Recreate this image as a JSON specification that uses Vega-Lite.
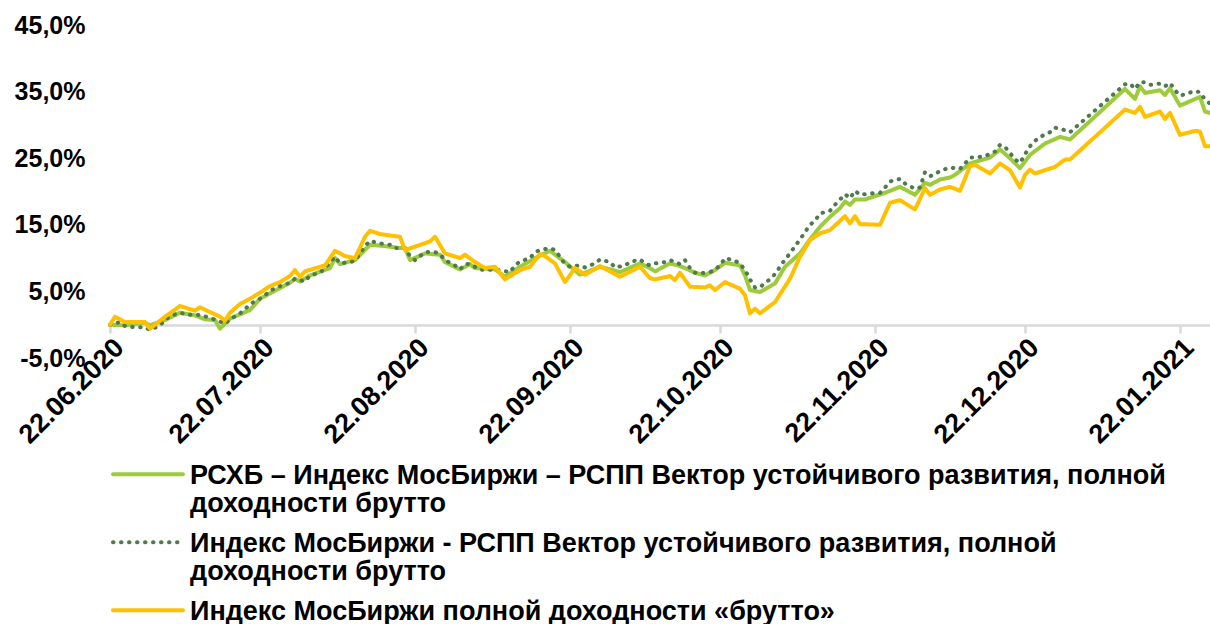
{
  "$schema": "https://vega.github.io/schema/vega-lite/v6.json",
  "width": 1100,
  "height": 333,
  "autosize": {"type": "none"},
  "padding": {"left": 110, "top": 25, "right": 0, "bottom": 266},
  "background": "white",
  "config": {
    "view": {"stroke": null},
    "font": "Liberation Sans"
  },
  "datasets": {
    "names": [
      {"s": "A", "name": "РСХБ – Индекс МосБиржи – РСПП Вектор устойчивого развития, полной доходности брутто"},
      {"s": "B", "name": "Индекс МосБиржи - РСПП Вектор устойчивого развития, полной доходности брутто"},
      {"s": "C", "name": "Индекс МосБиржи полной доходности «брутто»"}
    ],
    "pts": [
      {"date":"2020-06-22","s":"A","value":0.0},
      {"date":"2020-06-25","s":"A","value":-0.1},
      {"date":"2020-06-29","s":"A","value":0.3},
      {"date":"2020-06-30","s":"A","value":-0.1},
      {"date":"2020-07-03","s":"A","value":0.7},
      {"date":"2020-07-06","s":"A","value":1.8},
      {"date":"2020-07-09","s":"A","value":1.4},
      {"date":"2020-07-11","s":"A","value":0.8},
      {"date":"2020-07-13","s":"A","value":0.7},
      {"date":"2020-07-14","s":"A","value":-0.6},
      {"date":"2020-07-16","s":"A","value":0.9},
      {"date":"2020-07-20","s":"A","value":2.2},
      {"date":"2020-07-22","s":"A","value":3.9},
      {"date":"2020-07-24","s":"A","value":4.7},
      {"date":"2020-07-28","s":"A","value":6.3},
      {"date":"2020-07-29","s":"A","value":6.9},
      {"date":"2020-07-30","s":"A","value":6.5},
      {"date":"2020-08-01","s":"A","value":7.4},
      {"date":"2020-08-05","s":"A","value":8.5},
      {"date":"2020-08-06","s":"A","value":10.0},
      {"date":"2020-08-07","s":"A","value":9.1},
      {"date":"2020-08-10","s":"A","value":9.7},
      {"date":"2020-08-13","s":"A","value":12.0},
      {"date":"2020-08-16","s":"A","value":11.8},
      {"date":"2020-08-19","s":"A","value":11.5},
      {"date":"2020-08-20","s":"A","value":11.5},
      {"date":"2020-08-21","s":"A","value":9.7},
      {"date":"2020-08-24","s":"A","value":10.7},
      {"date":"2020-08-27","s":"A","value":10.5},
      {"date":"2020-08-28","s":"A","value":9.4},
      {"date":"2020-08-31","s":"A","value":8.3},
      {"date":"2020-09-02","s":"A","value":9.1},
      {"date":"2020-09-03","s":"A","value":8.5},
      {"date":"2020-09-07","s":"A","value":8.3},
      {"date":"2020-09-09","s":"A","value":7.2},
      {"date":"2020-09-12","s":"A","value":8.7},
      {"date":"2020-09-15","s":"A","value":10.0},
      {"date":"2020-09-18","s":"A","value":11.1},
      {"date":"2020-09-21","s":"A","value":9.4},
      {"date":"2020-09-24","s":"A","value":7.5},
      {"date":"2020-09-28","s":"A","value":8.7},
      {"date":"2020-10-02","s":"A","value":7.9},
      {"date":"2020-10-06","s":"A","value":9.2},
      {"date":"2020-10-08","s":"A","value":8.5},
      {"date":"2020-10-09","s":"A","value":8.0},
      {"date":"2020-10-12","s":"A","value":9.2},
      {"date":"2020-10-14","s":"A","value":8.8},
      {"date":"2020-10-15","s":"A","value":8.5},
      {"date":"2020-10-17","s":"A","value":7.8},
      {"date":"2020-10-19","s":"A","value":7.4},
      {"date":"2020-10-21","s":"A","value":8.2},
      {"date":"2020-10-23","s":"A","value":9.3},
      {"date":"2020-10-26","s":"A","value":8.9},
      {"date":"2020-10-27","s":"A","value":7.4},
      {"date":"2020-10-28","s":"A","value":5.2},
      {"date":"2020-10-30","s":"A","value":4.9},
      {"date":"2020-11-02","s":"A","value":6.2},
      {"date":"2020-11-04","s":"A","value":8.7},
      {"date":"2020-11-07","s":"A","value":10.7},
      {"date":"2020-11-09","s":"A","value":12.8},
      {"date":"2020-11-11","s":"A","value":14.7},
      {"date":"2020-11-13","s":"A","value":16.2},
      {"date":"2020-11-15","s":"A","value":17.5},
      {"date":"2020-11-16","s":"A","value":18.5},
      {"date":"2020-11-17","s":"A","value":18.0},
      {"date":"2020-11-18","s":"A","value":18.8},
      {"date":"2020-11-20","s":"A","value":18.8},
      {"date":"2020-11-24","s":"A","value":19.8},
      {"date":"2020-11-27","s":"A","value":20.7},
      {"date":"2020-11-30","s":"A","value":19.5},
      {"date":"2020-12-02","s":"A","value":21.3},
      {"date":"2020-12-03","s":"A","value":21.0},
      {"date":"2020-12-05","s":"A","value":21.8},
      {"date":"2020-12-07","s":"A","value":22.1},
      {"date":"2020-12-08","s":"A","value":22.5},
      {"date":"2020-12-11","s":"A","value":24.2},
      {"date":"2020-12-15","s":"A","value":25.1},
      {"date":"2020-12-17","s":"A","value":26.3},
      {"date":"2020-12-19","s":"A","value":25.0},
      {"date":"2020-12-21","s":"A","value":23.5},
      {"date":"2020-12-23","s":"A","value":25.5},
      {"date":"2020-12-26","s":"A","value":27.2},
      {"date":"2020-12-29","s":"A","value":28.2},
      {"date":"2020-12-31","s":"A","value":27.8},
      {"date":"2021-01-11","s":"A","value":35.4},
      {"date":"2021-01-13","s":"A","value":33.9},
      {"date":"2021-01-14","s":"A","value":35.8},
      {"date":"2021-01-15","s":"A","value":34.8},
      {"date":"2021-01-18","s":"A","value":35.2},
      {"date":"2021-01-19","s":"A","value":34.5},
      {"date":"2021-01-20","s":"A","value":35.5},
      {"date":"2021-01-22","s":"A","value":32.9},
      {"date":"2021-01-26","s":"A","value":34.2},
      {"date":"2021-01-27","s":"A","value":32.0},
      {"date":"2021-01-28","s":"A","value":31.8},

      {"date":"2020-06-22","s":"B","value":0.0},
      {"date":"2020-06-24","s":"B","value":0.4},
      {"date":"2020-06-25","s":"B","value":-0.2},
      {"date":"2020-06-27","s":"B","value":-0.4},
      {"date":"2020-06-29","s":"B","value":-0.4},
      {"date":"2020-06-30","s":"B","value":-0.8},
      {"date":"2020-07-02","s":"B","value":-0.1},
      {"date":"2020-07-03","s":"B","value":0.7},
      {"date":"2020-07-04","s":"B","value":1.3},
      {"date":"2020-07-06","s":"B","value":1.8},
      {"date":"2020-07-07","s":"B","value":1.6},
      {"date":"2020-07-09","s":"B","value":1.4},
      {"date":"2020-07-10","s":"B","value":1.5},
      {"date":"2020-07-12","s":"B","value":1.0},
      {"date":"2020-07-14","s":"B","value":0.5},
      {"date":"2020-07-15","s":"B","value":0.1},
      {"date":"2020-07-16","s":"B","value":0.8},
      {"date":"2020-07-18","s":"B","value":1.7},
      {"date":"2020-07-19","s":"B","value":2.3},
      {"date":"2020-07-20","s":"B","value":3.1},
      {"date":"2020-07-22","s":"B","value":3.9},
      {"date":"2020-07-23","s":"B","value":4.4},
      {"date":"2020-07-24","s":"B","value":5.1},
      {"date":"2020-07-26","s":"B","value":5.8},
      {"date":"2020-07-28","s":"B","value":6.3},
      {"date":"2020-07-29","s":"B","value":6.9},
      {"date":"2020-07-31","s":"B","value":6.5},
      {"date":"2020-08-01","s":"B","value":7.4},
      {"date":"2020-08-03","s":"B","value":7.8},
      {"date":"2020-08-04","s":"B","value":8.5},
      {"date":"2020-08-06","s":"B","value":10.2},
      {"date":"2020-08-07","s":"B","value":9.2},
      {"date":"2020-08-09","s":"B","value":9.4},
      {"date":"2020-08-10","s":"B","value":9.6},
      {"date":"2020-08-12","s":"B","value":11.8},
      {"date":"2020-08-13","s":"B","value":12.6},
      {"date":"2020-08-15","s":"B","value":12.2},
      {"date":"2020-08-17","s":"B","value":12.0},
      {"date":"2020-08-18","s":"B","value":11.5},
      {"date":"2020-08-20","s":"B","value":11.5},
      {"date":"2020-08-21","s":"B","value":10.3},
      {"date":"2020-08-22","s":"B","value":9.7},
      {"date":"2020-08-23","s":"B","value":10.3},
      {"date":"2020-08-24","s":"B","value":10.9},
      {"date":"2020-08-26","s":"B","value":10.9},
      {"date":"2020-08-27","s":"B","value":10.6},
      {"date":"2020-08-28","s":"B","value":9.7},
      {"date":"2020-08-30","s":"B","value":8.9},
      {"date":"2020-08-31","s":"B","value":8.3},
      {"date":"2020-09-01","s":"B","value":9.1},
      {"date":"2020-09-02","s":"B","value":9.1},
      {"date":"2020-09-04","s":"B","value":8.3},
      {"date":"2020-09-05","s":"B","value":8.2},
      {"date":"2020-09-07","s":"B","value":8.3},
      {"date":"2020-09-10","s":"B","value":7.9},
      {"date":"2020-09-11","s":"B","value":8.9},
      {"date":"2020-09-12","s":"B","value":9.5},
      {"date":"2020-09-14","s":"B","value":10.0},
      {"date":"2020-09-15","s":"B","value":10.9},
      {"date":"2020-09-16","s":"B","value":11.2},
      {"date":"2020-09-18","s":"B","value":11.5},
      {"date":"2020-09-19","s":"B","value":11.2},
      {"date":"2020-09-20","s":"B","value":10.2},
      {"date":"2020-09-21","s":"B","value":9.1},
      {"date":"2020-09-22","s":"B","value":8.7},
      {"date":"2020-09-24","s":"B","value":8.9},
      {"date":"2020-09-25","s":"B","value":8.6},
      {"date":"2020-09-27","s":"B","value":9.2},
      {"date":"2020-09-28","s":"B","value":9.8},
      {"date":"2020-09-30","s":"B","value":9.4},
      {"date":"2020-10-01","s":"B","value":8.6},
      {"date":"2020-10-03","s":"B","value":8.9},
      {"date":"2020-10-04","s":"B","value":9.4},
      {"date":"2020-10-06","s":"B","value":9.8},
      {"date":"2020-10-07","s":"B","value":9.2},
      {"date":"2020-10-08","s":"B","value":8.9},
      {"date":"2020-10-09","s":"B","value":9.2},
      {"date":"2020-10-11","s":"B","value":9.4},
      {"date":"2020-10-12","s":"B","value":9.7},
      {"date":"2020-10-14","s":"B","value":9.1},
      {"date":"2020-10-15","s":"B","value":9.7},
      {"date":"2020-10-16","s":"B","value":8.5},
      {"date":"2020-10-17","s":"B","value":7.8},
      {"date":"2020-10-18","s":"B","value":7.7},
      {"date":"2020-10-20","s":"B","value":7.9},
      {"date":"2020-10-21","s":"B","value":8.3},
      {"date":"2020-10-22","s":"B","value":8.9},
      {"date":"2020-10-23","s":"B","value":10.0},
      {"date":"2020-10-25","s":"B","value":9.6},
      {"date":"2020-10-26","s":"B","value":9.2},
      {"date":"2020-10-27","s":"B","value":8.2},
      {"date":"2020-10-28","s":"B","value":6.8},
      {"date":"2020-10-29","s":"B","value":5.6},
      {"date":"2020-10-30","s":"B","value":5.6},
      {"date":"2020-10-31","s":"B","value":6.3},
      {"date":"2020-11-01","s":"B","value":6.8},
      {"date":"2020-11-02","s":"B","value":7.6},
      {"date":"2020-11-03","s":"B","value":8.7},
      {"date":"2020-11-04","s":"B","value":9.8},
      {"date":"2020-11-05","s":"B","value":10.7},
      {"date":"2020-11-06","s":"B","value":11.8},
      {"date":"2020-11-07","s":"B","value":12.8},
      {"date":"2020-11-08","s":"B","value":13.9},
      {"date":"2020-11-09","s":"B","value":15.0},
      {"date":"2020-11-10","s":"B","value":15.6},
      {"date":"2020-11-11","s":"B","value":16.7},
      {"date":"2020-11-13","s":"B","value":17.1},
      {"date":"2020-11-14","s":"B","value":18.0},
      {"date":"2020-11-15","s":"B","value":18.8},
      {"date":"2020-11-16","s":"B","value":19.6},
      {"date":"2020-11-17","s":"B","value":19.0},
      {"date":"2020-11-18","s":"B","value":20.1},
      {"date":"2020-11-19","s":"B","value":19.5},
      {"date":"2020-11-21","s":"B","value":19.7},
      {"date":"2020-11-23","s":"B","value":19.8},
      {"date":"2020-11-24","s":"B","value":20.6},
      {"date":"2020-11-25","s":"B","value":21.5},
      {"date":"2020-11-27","s":"B","value":21.9},
      {"date":"2020-11-28","s":"B","value":21.2},
      {"date":"2020-11-30","s":"B","value":20.4},
      {"date":"2020-12-01","s":"B","value":20.6},
      {"date":"2020-12-02","s":"B","value":22.9},
      {"date":"2020-12-03","s":"B","value":22.3},
      {"date":"2020-12-04","s":"B","value":22.6},
      {"date":"2020-12-05","s":"B","value":23.1},
      {"date":"2020-12-07","s":"B","value":23.6},
      {"date":"2020-12-09","s":"B","value":23.4},
      {"date":"2020-12-10","s":"B","value":24.2},
      {"date":"2020-12-11","s":"B","value":25.1},
      {"date":"2020-12-12","s":"B","value":25.1},
      {"date":"2020-12-14","s":"B","value":25.3},
      {"date":"2020-12-16","s":"B","value":26.0},
      {"date":"2020-12-17","s":"B","value":27.0},
      {"date":"2020-12-18","s":"B","value":26.7},
      {"date":"2020-12-19","s":"B","value":25.8},
      {"date":"2020-12-20","s":"B","value":24.8},
      {"date":"2020-12-21","s":"B","value":24.3},
      {"date":"2020-12-22","s":"B","value":25.6},
      {"date":"2020-12-23","s":"B","value":26.8},
      {"date":"2020-12-24","s":"B","value":27.6},
      {"date":"2020-12-25","s":"B","value":28.2},
      {"date":"2020-12-27","s":"B","value":28.9},
      {"date":"2020-12-28","s":"B","value":29.6},
      {"date":"2020-12-30","s":"B","value":29.2},
      {"date":"2020-12-31","s":"B","value":28.9},
      {"date":"2021-01-11","s":"B","value":36.1},
      {"date":"2021-01-12","s":"B","value":36.2},
      {"date":"2021-01-13","s":"B","value":35.4},
      {"date":"2021-01-14","s":"B","value":36.4},
      {"date":"2021-01-15","s":"B","value":36.4},
      {"date":"2021-01-16","s":"B","value":36.0},
      {"date":"2021-01-18","s":"B","value":36.2},
      {"date":"2021-01-19","s":"B","value":35.8},
      {"date":"2021-01-20","s":"B","value":36.3},
      {"date":"2021-01-21","s":"B","value":35.2},
      {"date":"2021-01-22","s":"B","value":34.4},
      {"date":"2021-01-23","s":"B","value":34.6},
      {"date":"2021-01-25","s":"B","value":35.1},
      {"date":"2021-01-26","s":"B","value":34.9},
      {"date":"2021-01-27","s":"B","value":33.8},
      {"date":"2021-01-28","s":"B","value":33.2},

      {"date":"2020-06-22","s":"C","value":0.0},
      {"date":"2020-06-23","s":"C","value":1.2},
      {"date":"2020-06-25","s":"C","value":0.4},
      {"date":"2020-06-29","s":"C","value":0.4},
      {"date":"2020-06-30","s":"C","value":-0.6},
      {"date":"2020-07-03","s":"C","value":1.2},
      {"date":"2020-07-06","s":"C","value":2.8},
      {"date":"2020-07-09","s":"C","value":2.1},
      {"date":"2020-07-10","s":"C","value":2.6},
      {"date":"2020-07-14","s":"C","value":1.2},
      {"date":"2020-07-15","s":"C","value":0.6},
      {"date":"2020-07-16","s":"C","value":1.8},
      {"date":"2020-07-18","s":"C","value":3.1},
      {"date":"2020-07-20","s":"C","value":3.9},
      {"date":"2020-07-22","s":"C","value":4.8},
      {"date":"2020-07-24","s":"C","value":5.8},
      {"date":"2020-07-26","s":"C","value":6.4},
      {"date":"2020-07-28","s":"C","value":7.3},
      {"date":"2020-07-29","s":"C","value":8.2},
      {"date":"2020-07-30","s":"C","value":7.2},
      {"date":"2020-07-31","s":"C","value":8.0},
      {"date":"2020-08-04","s":"C","value":8.9},
      {"date":"2020-08-06","s":"C","value":11.1},
      {"date":"2020-08-08","s":"C","value":10.3},
      {"date":"2020-08-10","s":"C","value":10.0},
      {"date":"2020-08-12","s":"C","value":13.2},
      {"date":"2020-08-13","s":"C","value":14.1},
      {"date":"2020-08-15","s":"C","value":13.6},
      {"date":"2020-08-19","s":"C","value":13.2},
      {"date":"2020-08-20","s":"C","value":11.2},
      {"date":"2020-08-25","s":"C","value":12.5},
      {"date":"2020-08-26","s":"C","value":13.2},
      {"date":"2020-08-28","s":"C","value":10.7},
      {"date":"2020-08-31","s":"C","value":10.0},
      {"date":"2020-09-01","s":"C","value":10.5},
      {"date":"2020-09-03","s":"C","value":9.4},
      {"date":"2020-09-05","s":"C","value":8.5},
      {"date":"2020-09-07","s":"C","value":8.7},
      {"date":"2020-09-09","s":"C","value":6.8},
      {"date":"2020-09-12","s":"C","value":8.2},
      {"date":"2020-09-14","s":"C","value":8.7},
      {"date":"2020-09-16","s":"C","value":10.6},
      {"date":"2020-09-17","s":"C","value":10.3},
      {"date":"2020-09-19","s":"C","value":9.2},
      {"date":"2020-09-21","s":"C","value":6.4},
      {"date":"2020-09-23","s":"C","value":8.5},
      {"date":"2020-09-25","s":"C","value":7.5},
      {"date":"2020-09-28","s":"C","value":8.8},
      {"date":"2020-09-30","s":"C","value":8.0},
      {"date":"2020-10-02","s":"C","value":7.2},
      {"date":"2020-10-06","s":"C","value":8.7},
      {"date":"2020-10-08","s":"C","value":7.0},
      {"date":"2020-10-09","s":"C","value":6.8},
      {"date":"2020-10-12","s":"C","value":7.3},
      {"date":"2020-10-13","s":"C","value":6.7},
      {"date":"2020-10-14","s":"C","value":7.8},
      {"date":"2020-10-16","s":"C","value":5.7},
      {"date":"2020-10-19","s":"C","value":5.6},
      {"date":"2020-10-20","s":"C","value":5.9},
      {"date":"2020-10-21","s":"C","value":5.2},
      {"date":"2020-10-23","s":"C","value":6.4},
      {"date":"2020-10-26","s":"C","value":5.4},
      {"date":"2020-10-27","s":"C","value":4.4},
      {"date":"2020-10-28","s":"C","value":1.7},
      {"date":"2020-10-29","s":"C","value":2.4},
      {"date":"2020-10-30","s":"C","value":1.7},
      {"date":"2020-11-02","s":"C","value":3.4},
      {"date":"2020-11-05","s":"C","value":6.9},
      {"date":"2020-11-07","s":"C","value":10.2},
      {"date":"2020-11-09","s":"C","value":12.7},
      {"date":"2020-11-11","s":"C","value":13.7},
      {"date":"2020-11-13","s":"C","value":14.2},
      {"date":"2020-11-16","s":"C","value":16.3},
      {"date":"2020-11-17","s":"C","value":15.2},
      {"date":"2020-11-18","s":"C","value":16.3},
      {"date":"2020-11-19","s":"C","value":15.1},
      {"date":"2020-11-23","s":"C","value":15.0},
      {"date":"2020-11-25","s":"C","value":18.3},
      {"date":"2020-11-27","s":"C","value":18.7},
      {"date":"2020-11-30","s":"C","value":17.3},
      {"date":"2020-12-02","s":"C","value":20.5},
      {"date":"2020-12-03","s":"C","value":19.5},
      {"date":"2020-12-05","s":"C","value":20.3},
      {"date":"2020-12-07","s":"C","value":20.7},
      {"date":"2020-12-09","s":"C","value":20.1},
      {"date":"2020-12-11","s":"C","value":23.8},
      {"date":"2020-12-12","s":"C","value":24.0},
      {"date":"2020-12-15","s":"C","value":22.7},
      {"date":"2020-12-17","s":"C","value":24.2},
      {"date":"2020-12-19","s":"C","value":23.2},
      {"date":"2020-12-21","s":"C","value":20.6},
      {"date":"2020-12-22","s":"C","value":22.5},
      {"date":"2020-12-23","s":"C","value":23.3},
      {"date":"2020-12-24","s":"C","value":22.7},
      {"date":"2020-12-28","s":"C","value":23.7},
      {"date":"2020-12-30","s":"C","value":24.8},
      {"date":"2020-12-31","s":"C","value":24.8},
      {"date":"2021-01-11","s":"C","value":32.3},
      {"date":"2021-01-13","s":"C","value":31.8},
      {"date":"2021-01-14","s":"C","value":32.7},
      {"date":"2021-01-15","s":"C","value":31.2},
      {"date":"2021-01-18","s":"C","value":32.0},
      {"date":"2021-01-19","s":"C","value":30.9},
      {"date":"2021-01-20","s":"C","value":31.8},
      {"date":"2021-01-22","s":"C","value":28.5},
      {"date":"2021-01-25","s":"C","value":29.1},
      {"date":"2021-01-26","s":"C","value":29.0},
      {"date":"2021-01-27","s":"C","value":26.8},
      {"date":"2021-01-28","s":"C","value":26.8}
    ]
  },
  "data": {"name": "pts"},
  "transform": [
    {"lookup": "s", "from": {"data": {"name": "names"}, "key": "s", "fields": ["name"]}}
  ],
  "mark": {"type": "line", "strokeWidth": 4, "strokeCap": "round", "strokeJoin": "round", "interpolate": "linear"},
  "encoding": {
    "x": {
      "field": "date",
      "type": "temporal",
      "scale": {
        "type": "utc",
        "domain": [
          {"year": 2020, "month": 6, "date": 22, "utc": true},
          {"year": 2021, "month": 1, "date": 28, "utc": true}
        ]
      },
      "axis": {
        "title": null,
        "offset": -33,
        "values": [
          {"year": 2020, "month": 6, "date": 22, "utc": true},
          {"year": 2020, "month": 7, "date": 22, "utc": true},
          {"year": 2020, "month": 8, "date": 22, "utc": true},
          {"year": 2020, "month": 9, "date": 22, "utc": true},
          {"year": 2020, "month": 10, "date": 22, "utc": true},
          {"year": 2020, "month": 11, "date": 22, "utc": true},
          {"year": 2020, "month": 12, "date": 22, "utc": true},
          {"year": 2021, "month": 1, "date": 22, "utc": true}
        ],
        "format": "%d.%m.%Y",
        "grid": false,
        "domainColor": "#d9d9d9",
        "domainWidth": 2.5,
        "tickColor": "#d9d9d9",
        "tickWidth": 2.5,
        "tickSize": 8,
        "labelAngle": -45,
        "labelAlign": "right",
        "labelBaseline": "top",
        "labelPadding": 1,
        "labelFont": "Liberation Sans",
        "labelFontWeight": "bold",
        "labelFontSize": 27,
        "labelColor": "#000000",
        "labelOverlap": false,
        "labelBound": false,
        "labelFlush": false
      }
    },
    "y": {
      "field": "value",
      "type": "quantitative",
      "scale": {"domain": [-5, 45], "nice": false, "zero": false},
      "axis": {
        "title": null,
        "values": [-5, 5, 15, 25, 35, 45],
        "labelExpr": "replace(replace(format(datum.value, '.1f'), '.', ','), '−', '-') + '%'",
        "grid": false,
        "domain": false,
        "ticks": false,
        "tickSize": 0,
        "labelPadding": 25,
        "labelFont": "Liberation Sans",
        "labelFontWeight": "bold",
        "labelFontSize": 25,
        "labelColor": "#000000",
        "labelOverlap": false,
        "labelBound": false,
        "labelFlush": false
      }
    },
    "color": {
      "field": "name",
      "type": "nominal",
      "scale": {
        "domain": [
          "РСХБ – Индекс МосБиржи – РСПП Вектор устойчивого развития, полной доходности брутто",
          "Индекс МосБиржи - РСПП Вектор устойчивого развития, полной доходности брутто",
          "Индекс МосБиржи полной доходности «брутто»"
        ],
        "range": ["#9dcb3c", "#4e7a4e", "#ffc000"]
      },
      "legend": {
        "title": null,
        "orient": "none",
        "legendX": -5,
        "legendY": 424,
        "direction": "vertical",
        "symbolType": "M-2.75,5.85H32.25",
        "symbolSize": 16,
        "symbolStrokeWidth": 4,
        "labelOffset": 58,
        "labelFont": "Liberation Sans",
        "labelFontWeight": "bold",
        "labelFontSize": 27,
        "labelColor": "#000000",
        "labelBaseline": "top",
        "labelLimit": 1200,
        "rowPadding": 0,
        "padding": 0,
        "labelExpr": "split(replace(datum.label, ', полной доходности', ', полной|доходности'), '|')",
        "encode": {
          "labels": {"update": {"lineHeight": {"value": 28}}},
          "symbols": {"update": {"strokeCap": {"value": "round"}}}
        }
      }
    },
    "strokeDash": {
      "field": "name",
      "type": "nominal",
      "scale": {
        "domain": [
          "РСХБ – Индекс МосБиржи – РСПП Вектор устойчивого развития, полной доходности брутто",
          "Индекс МосБиржи - РСПП Вектор устойчивого развития, полной доходности брутто",
          "Индекс МосБиржи полной доходности «брутто»"
        ],
        "range": [[1, 0], [0.5, 7.5], [1, 0]]
      },
      "legend": {
        "title": null,
        "orient": "none",
        "legendX": -5,
        "legendY": 424,
        "direction": "vertical",
        "symbolType": "M-2.75,5.85H32.25",
        "symbolSize": 16,
        "symbolStrokeWidth": 4,
        "labelOffset": 58,
        "labelFont": "Liberation Sans",
        "labelFontWeight": "bold",
        "labelFontSize": 27,
        "labelColor": "#000000",
        "labelBaseline": "top",
        "labelLimit": 1200,
        "rowPadding": 0,
        "padding": 0,
        "labelExpr": "split(replace(datum.label, ', полной доходности', ', полной|доходности'), '|')",
        "encode": {
          "labels": {"update": {"lineHeight": {"value": 28}}},
          "symbols": {"update": {"strokeCap": {"value": "round"}}}
        }
      }
    }
  }
}
